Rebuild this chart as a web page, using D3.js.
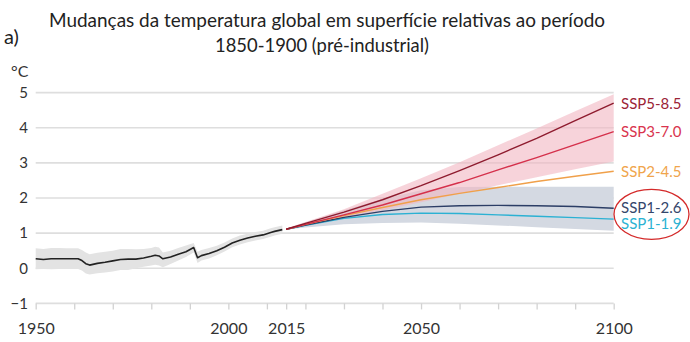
<!DOCTYPE html>
<html>
<head>
<meta charset="utf-8">
<script src="https://cdn.jsdelivr.net/npm/d3@7"></script>
<style>
  html, body { margin: 0; padding: 0; background: #fff; }
  svg { display: block; }
  text { font-family: Lato, "Noto Sans", sans-serif; }
</style>
</head>
<body>
<svg id="chart" width="690" height="342"></svg>
<script>
// ---------------- DATA ----------------
const titleLine1 = "Mudanças da temperatura global em superfície relativas ao período";
const titleLine2 = "1850-1900 (pré-industrial)";
const panelLabel = "a)";
const unitLabel = "°C";

const yTickValues = [-1, 0, 1, 2, 3, 4, 5];
const xTickMarks = [1950, 1960, 1970, 1980, 1990, 2000, 2010, 2015, 2020, 2030, 2040, 2050, 2060, 2070, 2080, 2090, 2100];
const xTickLabels = [1950, 2000, 2015, 2050, 2100];

const histYears = [1950,1952,1954,1956,1958,1961,1962,1963,1964,1966,1968,1970,1972,1974,1976,1978,1980,1981,1982,1983,1985,1987,1989,1991,1992,1993,1995,1997,1999,2001,2003,2005,2007,2009,2011,2012,2014];
const histMean  = [0.27,0.25,0.27,0.27,0.27,0.27,0.22,0.13,0.09,0.14,0.17,0.21,0.25,0.26,0.26,0.29,0.34,0.37,0.35,0.27,0.32,0.40,0.47,0.59,0.30,0.36,0.42,0.50,0.60,0.72,0.80,0.86,0.91,0.95,1.02,1.05,1.10];
const histUpper = [0.57,0.55,0.58,0.58,0.57,0.57,0.52,0.45,0.40,0.44,0.47,0.50,0.55,0.55,0.54,0.55,0.58,0.61,0.59,0.45,0.50,0.58,0.65,0.72,0.47,0.52,0.58,0.64,0.73,0.85,0.93,0.98,1.03,1.07,1.14,1.17,1.22];
const histLower = [-0.03,-0.02,-0.03,-0.02,-0.02,-0.02,-0.06,-0.15,-0.18,-0.14,-0.12,-0.09,-0.05,-0.05,0.00,0.04,0.08,0.10,0.08,0.03,0.12,0.22,0.32,0.45,0.15,0.22,0.28,0.37,0.48,0.60,0.68,0.74,0.79,0.83,0.90,0.93,0.98];

const projYears = [2015,2020,2030,2040,2050,2060,2070,2080,2090,2100];
const ssp585 = [1.11,1.28,1.60,1.95,2.35,2.78,3.23,3.70,4.20,4.70];
const ssp370 = [1.11,1.25,1.52,1.80,2.12,2.44,2.80,3.15,3.52,3.89];
const ssp245 = [1.11,1.25,1.50,1.73,1.95,2.13,2.30,2.47,2.62,2.76];
const ssp126 = [1.11,1.23,1.45,1.62,1.74,1.78,1.79,1.78,1.76,1.71];
const ssp119 = [1.11,1.22,1.42,1.53,1.57,1.56,1.52,1.48,1.44,1.40];

const highBandUpper = [1.13,1.32,1.68,2.12,2.56,3.02,3.50,3.98,4.47,4.95];
const highBandLower = [1.09,1.20,1.42,1.65,1.88,2.12,2.36,2.59,2.82,3.04];
const lowBandUpper  = [1.12,1.30,1.65,1.97,2.22,2.31,2.32,2.32,2.32,2.32];
const lowBandLower  = [1.10,1.16,1.25,1.29,1.30,1.27,1.22,1.17,1.12,1.07];

const scenarioNames  = ["SSP5-8.5", "SSP3-7.0", "SSP2-4.5", "SSP1-2.6", "SSP1-1.9"];
const scenarioValues = [ssp585, ssp370, ssp245, ssp126, ssp119];
const scenarioColors = ["#8e1b2e", "#d5304b", "#f0a04a", "#2c3e66", "#2bb1d3"];
const labelColors    = ["#9b2336", "#d9344e", "#f0a54c", "#34466b", "#2bb2d2"];

// ---------------- CHART ----------------
const svg = d3.select("#chart");
const x = d3.scaleLinear().domain([1950, 2100]).range([35.7, 613.7]);
const y = d3.scaleLinear().domain([-1, 5]).range([303.4, 92.6]);

// title
svg.append("text").attr("x", 327).attr("y", 27).attr("text-anchor", "middle")
  .attr("font-size", 19).attr("fill", "#222")
  .attr("textLength", 556).attr("lengthAdjust", "spacingAndGlyphs")
  .text(titleLine1);
svg.append("text").attr("x", 322).attr("y", 52).attr("text-anchor", "middle")
  .attr("font-size", 19).attr("fill", "#222")
  .attr("textLength", 214).attr("lengthAdjust", "spacingAndGlyphs")
  .text(titleLine2);
svg.append("text").attr("x", 4).attr("y", 44)
  .attr("font-size", 20).attr("fill", "#222").text(panelLabel);
svg.append("text").attr("x", 11).attr("y", 77)
  .attr("font-size", 16).attr("fill", "#333").text(unitLabel);

// gridlines
svg.append("g").selectAll("line").data(yTickValues).join("line")
  .attr("x1", x(1950)).attr("x2", x(2100))
  .attr("y1", d => y(d)).attr("y2", d => y(d))
  .attr("stroke", "#dedede").attr("stroke-width", 1.6);

// y axis labels
const yAxis = d3.axisLeft(y).tickValues(yTickValues).tickSize(0).tickPadding(0).tickFormat(d3.format("d"));
const gy = svg.append("g").attr("transform", "translate(28,0)").call(yAxis);
gy.select(".domain").remove();
gy.selectAll("text").attr("font-size", 15).attr("fill", "#333").attr("font-family", "Lato, sans-serif");

// x axis
const xAxis = d3.axisBottom(x).tickValues(xTickMarks).tickSize(6).tickFormat(d => xTickLabels.includes(d) ? String(d) : "");
const gx = svg.append("g").attr("transform", `translate(0,${y(-1)})`).call(xAxis);
gx.select(".domain").remove();
gx.selectAll("line").attr("stroke", "#d2d2d2").attr("stroke-width", 1.3);
gx.selectAll("text").attr("font-size", 16).attr("fill", "#333").attr("font-family", "Lato, sans-serif")
  .attr("y", 0).attr("dy", 0).attr("transform", `translate(0,${334 - y(-1)})`);

// bands
const histData = histYears.map((yr, i) => ({yr, m: histMean[i], u: histUpper[i], l: histLower[i]}));
const area = d3.area().x(d => x(d.yr)).y0(d => y(d.l)).y1(d => y(d.u));

svg.append("path").datum(histData).attr("d", area).attr("fill", "#e3e3e3");

const lowBand = projYears.map((yr, i) => ({yr, u: lowBandUpper[i], l: lowBandLower[i]}));
const highBand = projYears.map((yr, i) => ({yr, u: highBandUpper[i], l: highBandLower[i]}));
svg.append("path").datum(lowBand).attr("d", area).attr("fill", "#d4d9e2");
svg.append("path").datum(highBand).attr("d", area).attr("fill", "#f2b6c1").attr("fill-opacity", 0.6);

// lines
const line = d3.line().x(d => x(d.yr)).y(d => y(d.v));
svg.append("path").datum(histData.map(d => ({yr: d.yr, v: d.m})))
  .attr("d", line).attr("fill", "none").attr("stroke", "#222").attr("stroke-width", 1.6)
  .attr("stroke-linejoin", "round");

// draw low scenarios first so high ones sit on top
const order = [4, 3, 2, 1, 0];
order.forEach(k => {
  svg.append("path").datum(projYears.map((yr, i) => ({yr, v: scenarioValues[k][i]})))
    .attr("d", line).attr("fill", "none").attr("stroke", scenarioColors[k])
    .attr("stroke-width", 1.4).attr("stroke-linejoin", "round");
});

// scenario labels
const labelYs = [4.7, 3.89, 2.76, 1.74, 1.26];
svg.append("g").selectAll("text").data(scenarioNames).join("text")
  .attr("x", 621).attr("y", (d, i) => y(labelYs[i]) + 5.5)
  .attr("font-size", 15).attr("fill", (d, i) => labelColors[i]).text(d => d);

// highlight ellipse
svg.append("ellipse").attr("cx", 651.5).attr("cy", 214.3).attr("rx", 37.5).attr("ry", 25)
  .attr("fill", "none").attr("stroke", "#d42a2a").attr("stroke-width", 1.3);
</script>
</body>
</html>
